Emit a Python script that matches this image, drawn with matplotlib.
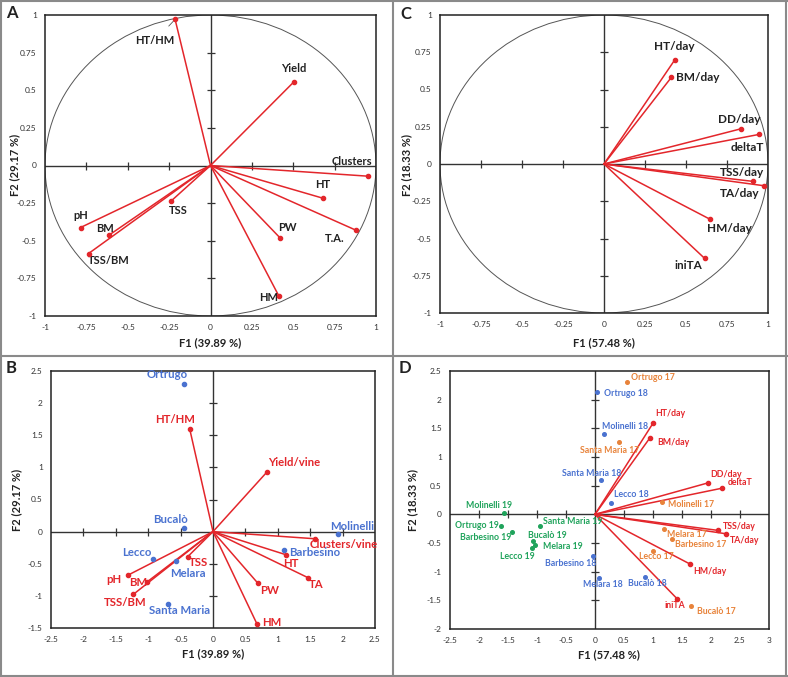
import numpy as np
import matplotlib
matplotlib.use("Agg")
import matplotlib.pyplot as plt
from matplotlib.patches import Ellipse
from matplotlib.lines import Line2D

plt.rcParams['font.family'] = ['Lato', 'DejaVu Sans']

W, H = 788, 677

RED = "#e3262b"
BLUE = "#4a72d0"
ORANGE = "#e8833a"
GREEN = "#1fa35b"

# ---- panel A: correlation circle (F1 39.89 %, F2 29.17 %) ----
a_vars = ["HT/HM", "Yield", "Clusters", "HT", "T.A.", "PW", "HM", "TSS", "pH", "BM", "TSS/BM"]
a_f1 = [-0.214, 0.505, 0.952, 0.678, 0.879, 0.422, 0.414, -0.237, -0.785, -0.611, -0.737]
a_f2 = [0.971, 0.557, -0.071, -0.217, -0.430, -0.483, -0.869, -0.235, -0.412, -0.461, -0.585]

# ---- panel C: correlation circle (F1 57.48 %, F2 18.33 %) ----
c_vars = ["HT/day", "BM/day", "DD/day", "deltaT", "TSS/day", "TA/day", "HM/day", "iniTA"]
c_f1 = [0.431, 0.411, 0.834, 0.943, 0.911, 0.976, 0.645, 0.614]
c_f2 = [0.698, 0.582, 0.236, 0.198, -0.117, -0.146, -0.370, -0.634]

# ---- panel B: biplot ----
b_vars = ["HT/HM", "Yield/vine", "Clusters/vine", "HT", "TA", "PW", "HM", "TSS", "pH", "BM", "TSS/BM"]
b_f1 = [-0.36, 0.83, 1.574, 1.127, 1.466, 0.69, 0.679, -0.39, -1.317, -1.02, -1.23]
b_f2 = [1.60, 0.925, -0.111, -0.36, -0.717, -0.80, -1.438, -0.39, -0.68, -0.785, -0.977]
b_sites = ["Ortrugo", "Bucalò", "Molinelli", "Barbesino", "Lecco", "Melara", "Santa Maria"]
b_site_f1 = [-0.453, -0.448, 1.934, 1.09, -0.93, -0.571, -0.694]
b_site_f2 = [2.30, 0.054, -0.039, -0.29, -0.43, -0.464, -1.127]

# ---- panel D: biplot ----
d_vars = ["HT/day", "BM/day", "DD/day", "deltaT", "TSS/day", "TA/day", "HM/day", "iniTA"]
d_f1 = [1.007, 0.95, 1.943, 2.19, 2.12, 2.265, 1.64, 1.415]
d_f2 = [1.60, 1.338, 0.547, 0.456, -0.28, -0.34, -0.868, -1.472]
d_17 = ["Ortrugo 17", "Santa Maria 17", "Molinelli 17", "Melara 17", "Barbesino 17", "Lecco 17", "Bucalò 17"]
d_17_f1 = [0.56, 0.42, 1.15, 1.19, 1.32, 1.0, 1.656]
d_17_f2 = [2.31, 1.257, 0.21, -0.25, -0.43, -0.64, -1.595]
d_18 = ["Ortrugo 18", "Molinelli 18", "Santa Maria 18", "Lecco 18", "Barbesino 18", "Melara 18", "Bucalò 18"]
d_18_f1 = [0.037, 0.16, 0.106, 0.273, -0.03, 0.066, 0.864]
d_18_f2 = [2.14, 1.397, 0.607, 0.195, -0.735, -1.107, -1.095]
d_19 = ["Molinelli 19", "Ortrugo 19", "Barbesino 19", "Bucalò 19", "Melara 19", "Lecco 19", "Santa Maria 19"]
d_19_f1 = [-1.564, -1.627, -1.426, -1.076, -1.03, -1.093, -0.94]
d_19_f2 = [0.02, -0.20, -0.30, -0.473, -0.543, -0.595, -0.20]

# label offsets (data units) from each point
a_off = [(-0.12, -0.14), (0, 0.085), (-0.10, 0.10), (0, 0.09), (-0.13, -0.056), (0.04, 0.07),
         (-0.06, -0.005), (0.043, -0.065), (0, 0.08), (-0.024, 0.044), (0.125, -0.045)]
a_leader = {"HT/HM", "Clusters", "T.A."}
c_off = [(0, 0.09), (0.16, 0), (-0.01, 0.06), (-0.07, -0.09), (-0.07, 0.06), (-0.15, -0.05),
         (0.12, -0.06), (-0.10, -0.05)]
b_off = [(-0.23, 0.14), (0.42, 0.145), (0.44, -0.09), (0.08, -0.14), (0.12, -0.10), (0.18, -0.115),
         (0.225, 0.03), (0.17, -0.09), (-0.22, -0.06), (-0.14, -0.005), (-0.13, -0.12)]
b_site_off = [(-0.25, 0.14), (-0.21, 0.14), (0.21, 0.12), (0.48, -0.04), (-0.25, 0.10), (0.18, -0.19),
              (0.18, -0.10)]
d_off = [(0.30, 0.16), (0.40, -0.08), (0.31, 0.15), (0.32, 0.10), (0.37, 0.06), (0.31, -0.115),
         (0.34, -0.13), (-0.035, -0.12)]
d_17_off = [(0.44, 0.07), (-0.16, -0.14), (0.50, -0.03), (0.39, -0.10), (0.50, -0.09), (0.05, -0.09),
            (0.43, -0.095)]
d_18_off = [(0.49, -0.03), (0.35, 0.13), (-0.16, 0.11), (0.35, 0.155), (-0.39, -0.115), (0.07, -0.12),
            (0.04, -0.12)]
d_19_off = [(-0.26, 0.13), (-0.41, 0.0), (-0.46, -0.10), (0.26, 0.11), (0.47, -0.01), (-0.24, -0.14),
            (0.56, 0.07)]


def px_axes(fig, x0, y0, x1, y1):
    return fig.add_axes([x0 / W, 1 - y1 / H, (x1 - x0) / W, (y1 - y0) / H])


def style_axes(ax, xlim, ylim, xticks, yticks):
    ax.set_xlim(xlim)
    ax.set_ylim(ylim)
    ax.set_xticks(xticks)
    ax.set_yticks(yticks)
    ax.set_xticklabels(["{:g}".format(t) for t in xticks])
    ax.set_yticklabels(["{:g}".format(t) for t in yticks])
    ax.tick_params(length=0, labelsize=6, labelcolor="#333333", pad=6)
    for s in ax.spines.values():
        s.set_color("#222222")
        s.set_linewidth(1.1)
    ax.axhline(0, color="#333333", lw=1.0, zorder=1)
    ax.axvline(0, color="#333333", lw=1.0, zorder=1)
    xt = [t for t in xticks if t != 0 and xlim[0] < t < xlim[1]]
    yt = [t for t in yticks if t != 0 and ylim[0] < t < ylim[1]]
    ax.plot(xt, [0] * len(xt), ls="none", marker="|", ms=6, mew=0.9, color="#333333", zorder=1)
    ax.plot([0] * len(yt), yt, ls="none", marker="_", ms=6, mew=0.9, color="#333333", zorder=1)


def vectors(ax, xs, ys, lw=1.1, ms=3):
    for x, y in zip(xs, ys):
        ax.plot([0, x], [0, y], color=RED, lw=lw, zorder=3)
        ax.plot([x], [y], "o", color=RED, ms=ms, zorder=4)


fig = plt.figure(figsize=(W / 100, H / 100), dpi=100)

# ---------- A ----------
ax = px_axes(fig, 45, 15, 376, 316)
ticks = [-1, -0.75, -0.5, -0.25, 0, 0.25, 0.5, 0.75, 1]
style_axes(ax, (-1, 1), (-1, 1), ticks, ticks)
ax.add_patch(Ellipse((0, 0), 2, 2, fill=False, color="#555555", lw=0.7))
vectors(ax, a_f1, a_f2)
for name, x, y, (dx, dy) in zip(a_vars, a_f1, a_f2, a_off):
    if name in a_leader:
        ax.annotate(name, xy=(x, y), xytext=(x + dx, y + dy), ha="center", va="center",
                    fontsize=8, fontweight="bold", color="#222222",
                    arrowprops=dict(arrowstyle="-", color="#555555", lw=0.6, shrinkA=6, shrinkB=1))
    else:
        ax.text(x + dx, y + dy, name, ha="center", va="center", fontsize=8,
                fontweight="bold", color="#222222")

# ---------- C ----------
ax = px_axes(fig, 440, 15, 768, 313)
style_axes(ax, (-1, 1), (-1, 1), ticks, ticks)
ax.add_patch(Ellipse((0, 0), 2, 2, fill=False, color="#555555", lw=0.7))
vectors(ax, c_f1, c_f2)
for name, x, y, (dx, dy) in zip(c_vars, c_f1, c_f2, c_off):
    ax.text(x + dx, y + dy, name, ha="center", va="center", fontsize=8.5,
            fontweight="bold", color="#222222")

# ---------- B ----------
ax = px_axes(fig, 51, 371, 375, 628)
style_axes(ax, (-2.5, 2.5), (-1.5, 2.5), list(np.arange(-2.5, 2.51, 0.5)),
           list(np.arange(-1.5, 2.51, 0.5)))
vectors(ax, b_f1, b_f2)
for name, x, y, (dx, dy) in zip(b_vars, b_f1, b_f2, b_off):
    ax.text(x + dx, y + dy, name, ha="center", va="center", fontsize=8.2,
            fontweight="bold", color=RED, zorder=5)
ax.plot(b_site_f1, b_site_f2, "o", ls="none", color=BLUE, ms=3, zorder=4)
for name, x, y, (dx, dy) in zip(b_sites, b_site_f1, b_site_f2, b_site_off):
    ax.text(x + dx, y + dy, name, ha="center", va="center", fontsize=8.2,
            fontweight="bold", color=BLUE, zorder=5)

# ---------- D ----------
ax = px_axes(fig, 450, 371, 769, 629)
style_axes(ax, (-2.5, 3), (-2, 2.5), list(np.arange(-2.5, 3.01, 0.5)),
           list(np.arange(-2, 2.51, 0.5)))
vectors(ax, d_f1, d_f2, lw=1.1, ms=3)
for name, x, y, (dx, dy) in zip(d_vars, d_f1, d_f2, d_off):
    ax.text(x + dx, y + dy, name, ha="center", va="center", fontsize=6.3,
            fontweight="bold", color=RED, zorder=5)
for names, xs, ys, offs, col in [(d_17, d_17_f1, d_17_f2, d_17_off, ORANGE),
                                 (d_18, d_18_f1, d_18_f2, d_18_off, BLUE),
                                 (d_19, d_19_f1, d_19_f2, d_19_off, GREEN)]:
    ax.plot(xs, ys, "o", ls="none", color=col, ms=2.6, zorder=4)
    for name, x, y, (dx, dy) in zip(names, xs, ys, offs):
        ax.text(x + dx, y + dy, name, ha="center", va="center", fontsize=6.3,
                fontweight="bold", color=col, zorder=5)

# axis titles
def ftext(x, y, s, **kw):
    fig.text(x / W, 1 - y / H, s, ha="center", va="center", fontweight="bold",
             color="#222222", **kw)

ftext(210, 343, "F1 (39.89 %)", fontsize=8)
ftext(15, 165, "F2 (29.17 %)", fontsize=8, rotation=90)
ftext(604, 343, "F1 (57.48 %)", fontsize=8)
ftext(407, 165, "F2 (18.33 %)", fontsize=8, rotation=90)
ftext(213, 654, "F1 (39.89 %)", fontsize=8)
ftext(17, 500, "F2 (29.17 %)", fontsize=8, rotation=90)
ftext(609, 655, "F1 (57.48 %)", fontsize=8)
ftext(413, 500, "F2 (18.33 %)", fontsize=8, rotation=90)

# panel letters
for letter, x, y in [("A", 12, 13), ("C", 406, 14), ("B", 11, 368), ("D", 405, 368)]:
    ftext(x, y, letter, fontsize=12)

# panel frames
grey = "#8a8a8a"
for (x0, y0, x1, y1) in [(1, 1, 787, 1), (1, 676, 787, 676), (1, 1, 1, 676), (786, 1, 786, 676),
                         (393, 1, 393, 676), (1, 356, 787, 356)]:
    fig.add_artist(Line2D([x0 / W, x1 / W], [1 - y0 / H, 1 - y1 / H], color=grey, lw=1.5))

fig.savefig("out.png", dpi=100)
